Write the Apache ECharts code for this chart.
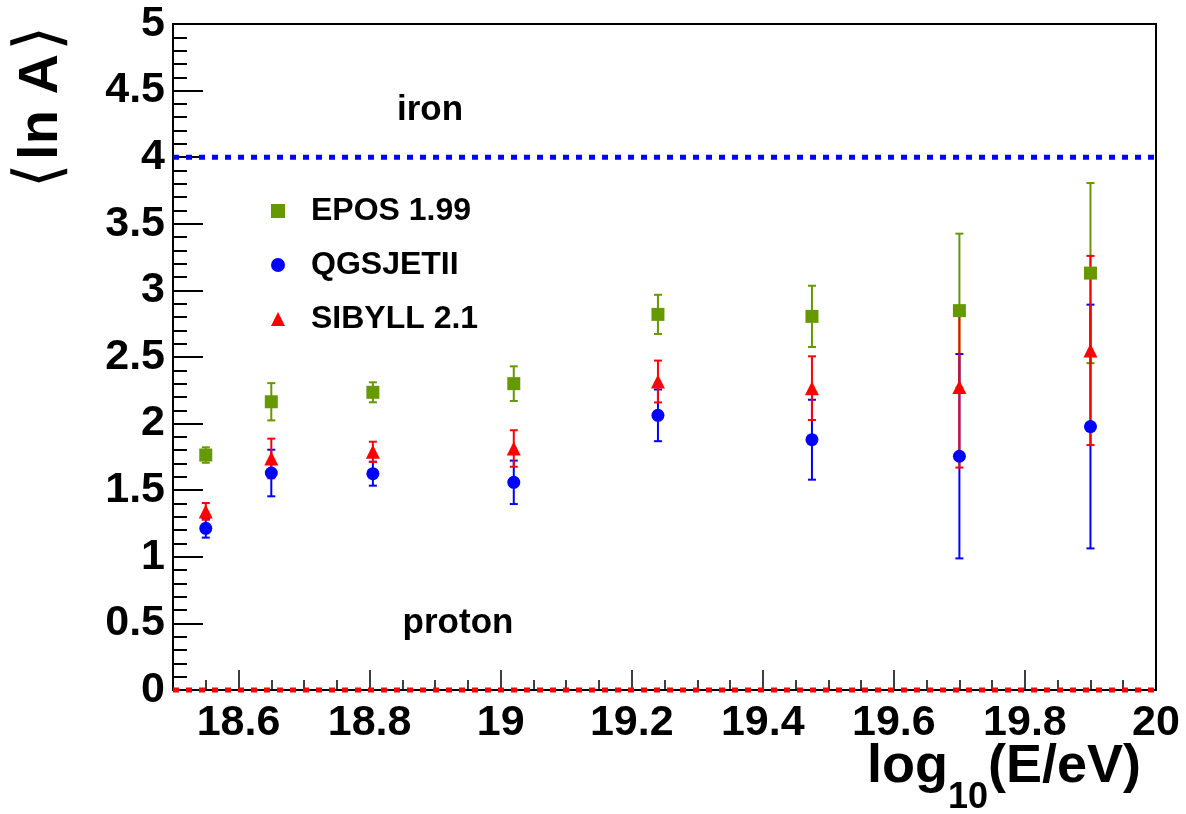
<!DOCTYPE html>
<html>
<head>
<meta charset="utf-8">
<script src="https://cdn.jsdelivr.net/npm/echarts@6/dist/echarts.min.js"></script>
<style>
  html, body { margin: 0; padding: 0; background: #ffffff; }
  #chart { width: 1186px; height: 814px; }
</style>
</head>
<body>
<div id="chart"></div>
<script>
// Mean logarithmic mass <ln A> versus energy for three hadronic interaction models
const energy = [18.55, 18.65, 18.805, 19.02, 19.24, 19.475, 19.70, 19.90];

const eposValues   = [1.764, 2.164, 2.235, 2.300, 2.820, 2.805, 2.848, 3.130];
const eposErrors   = [0.058, 0.140, 0.075, 0.130, 0.147, 0.230, 0.578, 0.676];

const qgsjetValues = [1.214, 1.629, 1.624, 1.559, 2.062, 1.879, 1.755, 1.978];
const qgsjetErrors = [0.070, 0.175, 0.090, 0.163, 0.194, 0.300, 0.767, 0.915];

const sibyllValues = [1.341, 1.738, 1.788, 1.813, 2.316, 2.266, 2.275, 2.549];
const sibyllErrors = [0.063, 0.149, 0.076, 0.137, 0.157, 0.239, 0.605, 0.710];

const seriesNames = ['EPOS 1.99', 'QGSJETII', 'SIBYLL 2.1'];

// Reference levels for pure compositions
const ironLevel = 4;
const protonLevel = 0;

// Axis ranges and tick labels
const xRange = [18.5, 20];
const yRange = [0, 5];
const xMajorTicks = [18.6, 18.8, 19, 19.2, 19.4, 19.6, 19.8, 20];

const FONT = '"Liberation Sans", Arial, Helvetica, sans-serif';
const GREEN = '#669900';
const BLUE = '#0000ff';
const RED = '#ff0000';

function errorBars(name, values, errors, color) {
  return {
    type: 'custom',
    name: name + ' errors',
    silent: true,
    z: 3,
    data: energy.map((x, i) => [x, values[i] - errors[i], values[i] + errors[i]]),
    encode: { x: 0, y: [1, 2] },
    renderItem(params, api) {
      const x = api.value(0);
      const lo = api.coord([x, api.value(1)]);
      const hi = api.coord([x, api.value(2)]);
      const cap = 4;
      const style = { stroke: color, lineWidth: 2 };
      return {
        type: 'group',
        children: [
          { type: 'line', shape: { x1: lo[0], y1: lo[1], x2: hi[0], y2: hi[1] }, style },
          { type: 'line', shape: { x1: lo[0] - cap, y1: lo[1], x2: lo[0] + cap, y2: lo[1] }, style },
          { type: 'line', shape: { x1: hi[0] - cap, y1: hi[1], x2: hi[0] + cap, y2: hi[1] }, style }
        ]
      };
    }
  };
}

function points(name, values, color, symbol, size) {
  return {
    type: 'scatter',
    name,
    symbol,
    symbolSize: size,
    itemStyle: { color, opacity: 1 },
    z: 5,
    silent: true,
    data: energy.map((x, i) => [x, values[i]])
  };
}

function levelLine(name, level, color) {
  return {
    type: 'line',
    name,
    clip: false,
    silent: true,
    symbol: 'none',
    z: 4,
    lineStyle: { color, width: 5, type: [6, 7], cap: 'butt' },
    data: [[xRange[0], level], [xRange[1], level]]
  };
}

const chart = echarts.init(document.getElementById('chart'), null, { renderer: 'canvas' });

chart.setOption({
  animation: false,
  backgroundColor: '#ffffff',
  textStyle: { fontFamily: FONT },
  grid: {
    left: 173, right: 30, top: 24, bottom: 124,
    containLabel: false, outerBoundsMode: 'none',
    show: true, borderColor: '#000', borderWidth: 2, backgroundColor: 'transparent'
  },
  legend: {
    orient: 'vertical',
    left: 266, top: 190,
    itemWidth: 14, itemHeight: 14,
    itemGap: 22,
    selectedMode: false,
    textStyle: { fontFamily: FONT, fontWeight: 'bold', fontSize: 32, color: '#000', padding: [0, 0, 0, 21] },
    data: [
      { name: seriesNames[0], icon: 'rect' },
      { name: seriesNames[1], icon: 'circle' },
      { name: seriesNames[2], icon: 'triangle' }
    ]
  },
  xAxis: [
    {
      type: 'value', min: xRange[0], max: xRange[1], interval: 0.05,
      position: 'bottom',
      axisLine: { show: true, lineStyle: { color: '#000', width: 2 } },
      axisTick: { show: true, inside: true, length: 10, lineStyle: { color: '#000', width: 1.5 } },
      axisLabel: { show: false },
      splitLine: { show: false }
    },
    {
      type: 'value', min: xRange[0], max: xRange[1],
      position: 'bottom',
      axisLine: { show: false },
      axisTick: { show: true, inside: true, length: 20, customValues: xMajorTicks, lineStyle: { color: '#000', width: 1.5 } },
      axisLabel: {
        show: true, customValues: xMajorTicks, margin: 12,
        fontFamily: FONT, fontWeight: 'bold', fontSize: 43, color: '#000',
        formatter: v => String(Math.round(v * 10) / 10)
      },
      splitLine: { show: false },
      name: '{a|log}{sub|10}{a|(E/eV)}',
      nameLocation: 'end',
      nameGap: -15,
      nameMoveOverlap: false,
      nameTextStyle: {
        align: 'right', verticalAlign: 'top', padding: [50, 0, 0, 0],
        rich: {
          a: { fontFamily: FONT, fontWeight: 'bold', fontSize: 54, color: '#000', verticalAlign: 'bottom', padding: [0, 0, 22, 0] },
          sub: { fontFamily: FONT, fontWeight: 'bold', fontSize: 36, color: '#000', verticalAlign: 'bottom' }
        }
      }
    }
  ],
  yAxis: {
    type: 'value', min: yRange[0], max: yRange[1], interval: 0.5,
    axisLine: { show: true, lineStyle: { color: '#000', width: 2 } },
    axisTick: { show: true, inside: true, length: 30, lineStyle: { color: '#000', width: 2 } },
    minorTick: { show: true, splitNumber: 5, length: 14, lineStyle: { color: '#000', width: 2 } },
    axisLabel: { margin: 8, fontFamily: FONT, fontWeight: 'bold', fontSize: 43, color: '#000' },
    splitLine: { show: false }
  },
  graphic: [
    {
      type: 'text', x: 42, y: 107, rotation: Math.PI / 2,
      style: {
        text: '{br|⟨} {t|ln A} {br|⟩}',
        align: 'center', verticalAlign: 'middle',
        rich: {
          br: { fontFamily: '"DejaVu Sans"', fontSize: 64, fill: '#000', fontWeight: 'normal' },
          t: { fontFamily: FONT, fontWeight: 'bold', fontSize: 56, fill: '#000' }
        }
      }
    },
    {
      type: 'text', x: 430, y: 110,
      style: { text: 'iron', font: 'bold 35px ' + FONT, fill: '#000', align: 'center', verticalAlign: 'middle' }
    },
    {
      type: 'text', x: 458, y: 623,
      style: { text: 'proton', font: 'bold 35px ' + FONT, fill: '#000', align: 'center', verticalAlign: 'middle' }
    }
  ],
  series: [
    levelLine('iron', ironLevel, BLUE),
    levelLine('proton', protonLevel, RED),
    errorBars(seriesNames[0], eposValues, eposErrors, GREEN),
    errorBars(seriesNames[1], qgsjetValues, qgsjetErrors, BLUE),
    errorBars(seriesNames[2], sibyllValues, sibyllErrors, RED),
    points(seriesNames[0], eposValues, GREEN, 'rect', 13),
    points(seriesNames[1], qgsjetValues, BLUE, 'circle', 13),
    points(seriesNames[2], sibyllValues, RED, 'triangle', 14)
  ]
});
</script>
</body>
</html>
